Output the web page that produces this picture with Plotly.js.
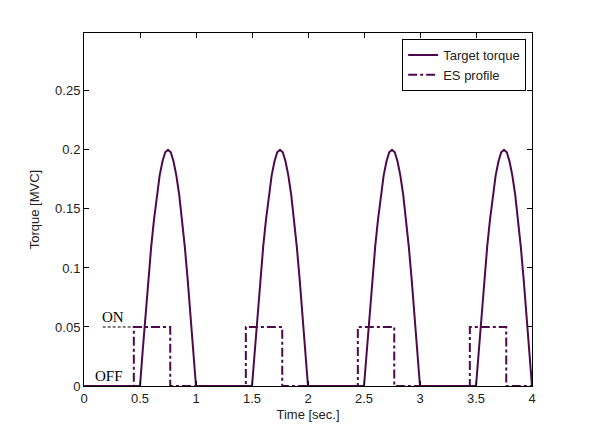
<!DOCTYPE html>
<html>
<head>
<meta charset="utf-8">
<script src="https://cdn.plot.ly/plotly-3.0.1.min.js"></script>
<style>
  body { margin: 0; background: #fff; }
  #graph { width: 600px; height: 440px; }
</style>
</head>
<body>
<div id="graph"></div>
<script>
// target torque, time in sec, torque in MVC
const torqueTime = [0,
  0.5, 0.525, 0.55, 0.575, 0.6, 0.625, 0.65, 0.675, 0.7, 0.725, 0.75,
  0.775, 0.8, 0.825, 0.85, 0.875, 0.9, 0.925, 0.95, 0.975, 1.0,
  1.5, 1.525, 1.55, 1.575, 1.6, 1.625, 1.65, 1.675, 1.7, 1.725, 1.75,
  1.775, 1.8, 1.825, 1.85, 1.875, 1.9, 1.925, 1.95, 1.975, 2.0,
  2.5, 2.525, 2.55, 2.575, 2.6, 2.625, 2.65, 2.675, 2.7, 2.725, 2.75,
  2.775, 2.8, 2.825, 2.85, 2.875, 2.9, 2.925, 2.95, 2.975, 3.0,
  3.5, 3.525, 3.55, 3.575, 3.6, 3.625, 3.65, 3.675, 3.7, 3.725, 3.75,
  3.775, 3.8, 3.825, 3.85, 3.875, 3.9, 3.925, 3.95, 3.975, 4.0];
const torqueValue = [0,
  0, 0.031, 0.062, 0.091, 0.118, 0.141, 0.162, 0.178, 0.19, 0.198, 0.2,
  0.198, 0.19, 0.178, 0.162, 0.141, 0.118, 0.091, 0.062, 0.031, 0,
  0, 0.031, 0.062, 0.091, 0.118, 0.141, 0.162, 0.178, 0.19, 0.198, 0.2,
  0.198, 0.19, 0.178, 0.162, 0.141, 0.118, 0.091, 0.062, 0.031, 0,
  0, 0.031, 0.062, 0.091, 0.118, 0.141, 0.162, 0.178, 0.19, 0.198, 0.2,
  0.198, 0.19, 0.178, 0.162, 0.141, 0.118, 0.091, 0.062, 0.031, 0,
  0, 0.031, 0.062, 0.091, 0.118, 0.141, 0.162, 0.178, 0.19, 0.198, 0.2,
  0.198, 0.19, 0.178, 0.162, 0.141, 0.118, 0.091, 0.062, 0.031, 0];

// ES on/off profile
const esTime = [0, 0.445, 0.445, 0.77, 0.77, 1.445, 1.445, 1.77, 1.77,
  2.445, 2.445, 2.77, 2.77, 3.445, 3.445, 3.77, 3.77, 4.0];
const esValue = [0, 0, 0.05, 0.05, 0, 0, 0.05, 0.05, 0,
  0, 0.05, 0.05, 0, 0, 0.05, 0.05, 0, 0];

// "ON" marker line
const onTime = [0.167, 0.445];
const onValue = [0.05, 0.05];

const xTicks = [0, 0.5, 1, 1.5, 2, 2.5, 3, 3.5, 4];
const xTickText = ['0', '0.5', '1', '1.5', '2', '2.5', '3', '3.5', '4'];
const yTicks = [0, 0.05, 0.1, 0.15, 0.2, 0.25];
const yTickText = ['0', '0.05', '0.1', '0.15', '0.2', '0.25'];

const purple = '#4c0a4c';

const traces = [
  {
    x: torqueTime, y: torqueValue, type: 'scatter', mode: 'lines',
    name: 'Target torque', cliponaxis: false,
    line: { color: purple, width: 2 }
  },
  {
    x: esTime, y: esValue, type: 'scatter', mode: 'lines',
    name: 'ES profile', cliponaxis: false,
    line: { color: purple, width: 2, dash: 'dashdot' }
  },
  {
    x: onTime, y: onValue, type: 'scatter', mode: 'lines',
    showlegend: false, hoverinfo: 'skip',
    line: { color: '#000', width: 1, dash: '3px,2px' }
  }
];

const axisFont = { family: 'Liberation Sans, Arial, sans-serif', size: 13, color: '#222' };
const serifFont = { family: 'Liberation Serif, Times New Roman, serif', size: 15, color: '#000' };

const layout = {
  width: 600, height: 440,
  margin: { l: 84, r: 68, t: 33, b: 54 },
  paper_bgcolor: '#fff', plot_bgcolor: '#fff',
  font: axisFont,
  showlegend: true,
  legend: {
    x: 0.987, xanchor: 'right', y: 0.983, yanchor: 'top',
    bordercolor: '#000', borderwidth: 1, bgcolor: '#fff',
    font: axisFont, tracegroupgap: 0
  },
  xaxis: {
    range: [0, 4], tickvals: xTicks, ticktext: xTickText,
    ticks: 'inside', ticklen: 5, tickcolor: '#000',
    showline: true, linecolor: '#000', linewidth: 1, mirror: 'ticks',
    showgrid: false, zeroline: false, tickfont: axisFont,
    title: { text: 'Time [sec.]', font: axisFont, standoff: 5 }
  },
  yaxis: {
    range: [0, 0.299], tickvals: yTicks, ticktext: yTickText,
    ticks: 'inside', ticklen: 5, tickcolor: '#000',
    showline: true, linecolor: '#000', linewidth: 1, mirror: 'ticks',
    showgrid: false, zeroline: false, tickfont: axisFont,
    title: { text: 'Torque [MVC]', font: axisFont, standoff: 12 }
  },
  annotations: [
    { x: 0.259, y: 0.0587, xref: 'x', yref: 'y', text: 'ON', showarrow: false, font: serifFont },
    { x: 0.223, y: 0.0087, xref: 'x', yref: 'y', text: 'OFF', showarrow: false, font: serifFont }
  ]
};

Plotly.newPlot('graph', traces, layout, { displayModeBar: false, staticPlot: true });
</script>
</body>
</html>
